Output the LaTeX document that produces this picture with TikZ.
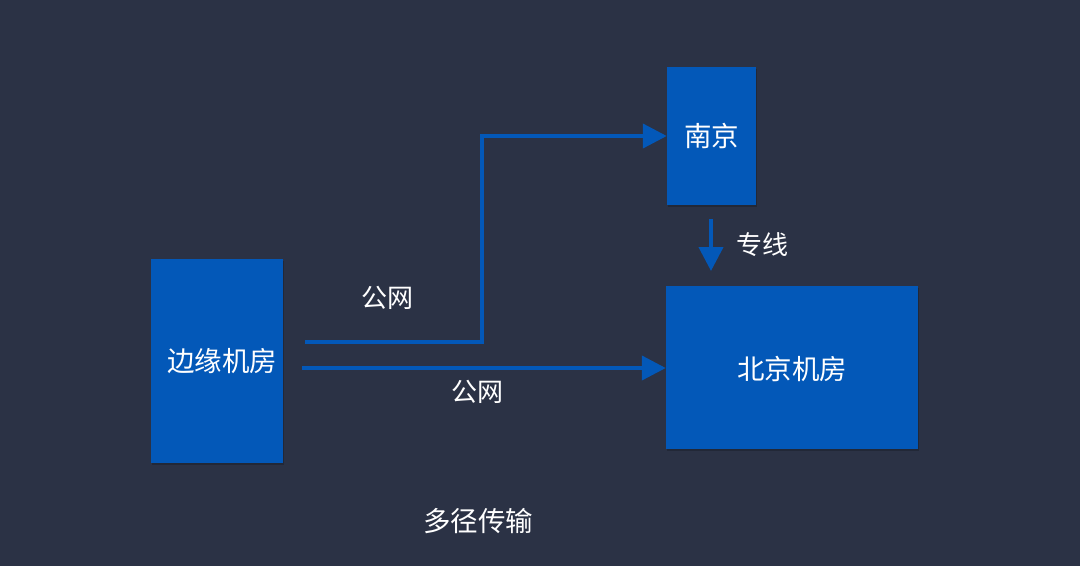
\documentclass[tikz,border=0pt]{standalone}
\usepackage{fontspec}
\newfontfamily\cjk{Noto Sans CJK SC}
\usetikzlibrary{arrows.meta,shadows}
\definecolor{bg}{HTML}{2B3245}
\definecolor{boxblue}{HTML}{0358B8}
\tikzset{
  box/.style={draw=none,fill=boxblue,minimum width=#1,inner sep=0pt,
    drop shadow={shadow xshift=1pt,shadow yshift=-1.5pt,opacity=0.2,fill=black}},
  lbl/.style={text=white,font=\cjk\fontsize{26}{30}\selectfont,inner sep=0pt},
  big/.style={text=white,font=\cjk\fontsize{27.5}{32}\selectfont,inner sep=0pt},
  conn/.style={draw=boxblue,line width=4pt,-{Triangle[length=24pt,width=24pt]}}
}
\begin{document}
\begin{tikzpicture}[x=1pt,y=-1pt]
\fill[bg] (0,0) rectangle (1080,566);
\useasboundingbox (0,0) rectangle (1080,566);
\node[box=132pt,minimum height=204pt] (edge) at (217,361) {};
\node[box=89pt,minimum height=138pt] (nj) at (711.5,136) {};
\node[box=252pt,minimum height=163pt] (bj) at (792,367.5) {};
\node[big] (tedge) at (222,361) {边缘机房};
\node[big] (tnj) at (711.5,136) {南京};
\node[big] (tbj) at (792,369) {北京机房};
\coordinate (s1) at (305,342);
\coordinate (c1) at (482,342);
\coordinate (c2) at (482,136);
\coordinate (s2) at (302,368);
\coordinate (d1) at (711,219);
\coordinate (d2) at (711,271);
\draw[conn] (s1) -- (c1) -- (c2) -- (nj.west);
\draw[conn] (s2) -- (s2 -| bj.west);
\draw[conn] (d1) -- (d2);
\node[lbl] (l1) at (387,298) {公网};
\node[lbl] (l2) at (477,392) {公网};
\node[lbl] (l3) at (762,245) {专线};
\node[big] (title) at (478,521) {多径传输};
\end{tikzpicture}
\end{document}
